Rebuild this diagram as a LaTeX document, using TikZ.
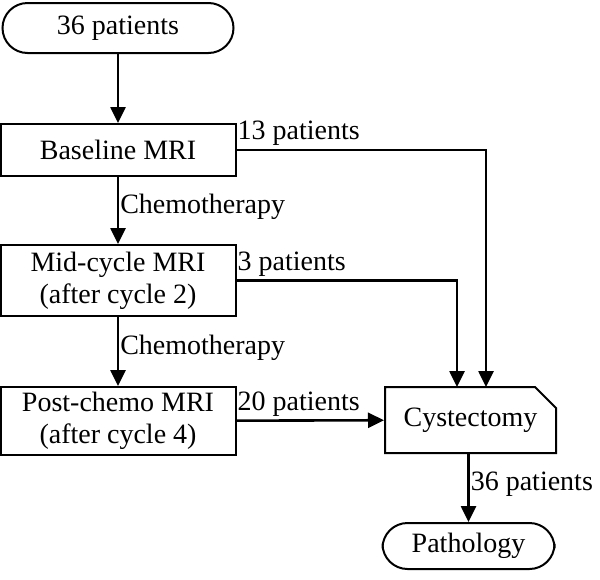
\documentclass[tikz,border=0pt]{standalone}
\usepackage{fontspec}
\setmainfont{Liberation Serif}
\usepackage{tikz}
\usetikzlibrary{positioning}
\usetikzlibrary{arrows.meta}
\usetikzlibrary{shapes.misc}

\begin{document}
\begin{tikzpicture}[x=1pt, y=-1pt]

            \tikzstyle{stepBox} = [draw, line width=2pt, inner sep=0pt, align=center, font=\fontsize{28}{32}\selectfont];
            \tikzstyle{endBox} = [stepBox, rounded corners=25pt];
            \tikzstyle{flowEdge} = [line width=2.6pt, -{Triangle[length=16pt,width=15pt]}];
            \tikzstyle{edgeLabel} = [inner sep=1pt, font=\fontsize{28}{32}\selectfont];

            \useasboundingbox (0,0) rectangle (600,579);

            \node[endBox, minimum width=231pt, minimum height=50pt] (start) at (118,28) {36 patients};
            \node[stepBox, minimum width=235pt, minimum height=52pt] (base) at (118,150) {Baseline MRI};
            \node[stepBox, minimum width=235pt, minimum height=71pt] (mid) at (118,280.5) {Mid-cycle MRI\\(after cycle 2)};
            \node[stepBox, minimum width=235pt, minimum height=68pt] (post) at (118,421) {Post-chemo MRI\\(after cycle 4)};
            \node[stepBox, chamfered rectangle, chamfered rectangle corners=north east,
                  chamfered rectangle xsep=11pt, chamfered rectangle ysep=10pt,
                  minimum width=171pt, minimum height=66pt] (cyst) at (470.5,420) {Cystectomy};
            \node[endBox, minimum width=172pt, minimum height=46pt] (patho) at (468.5,546) {Pathology};

            \coordinate (in13) at (486,387);
            \coordinate (in3)  at (457,387);

            \draw[flowEdge] (start) -- (base);
            \draw[flowEdge] (base) -- node[edgeLabel, right, yshift=4pt] {Chemotherapy} (mid);
            \draw[flowEdge] (mid) -- node[edgeLabel, right, yshift=4pt] {Chemotherapy} (post);
            \draw[flowEdge] (base.east) -| (in13);
            \draw[flowEdge] (mid.east) -| (in3);
            \draw[flowEdge] (post) -- (cyst);
            \draw[flowEdge] (cyst.south -| patho.north) -- node[edgeLabel, right, yshift=4pt] {36 patients} (patho.north);

            \node[edgeLabel, anchor=south west] (lab13) at ([yshift=3pt]base.east) {13 patients};
            \node[edgeLabel, anchor=south west] (lab3)  at ([yshift=3pt]mid.east) {3 patients};
            \node[edgeLabel, anchor=south west] (lab20) at ([yshift=3pt]post.east) {20 patients};
          \end{tikzpicture}
\end{document}
